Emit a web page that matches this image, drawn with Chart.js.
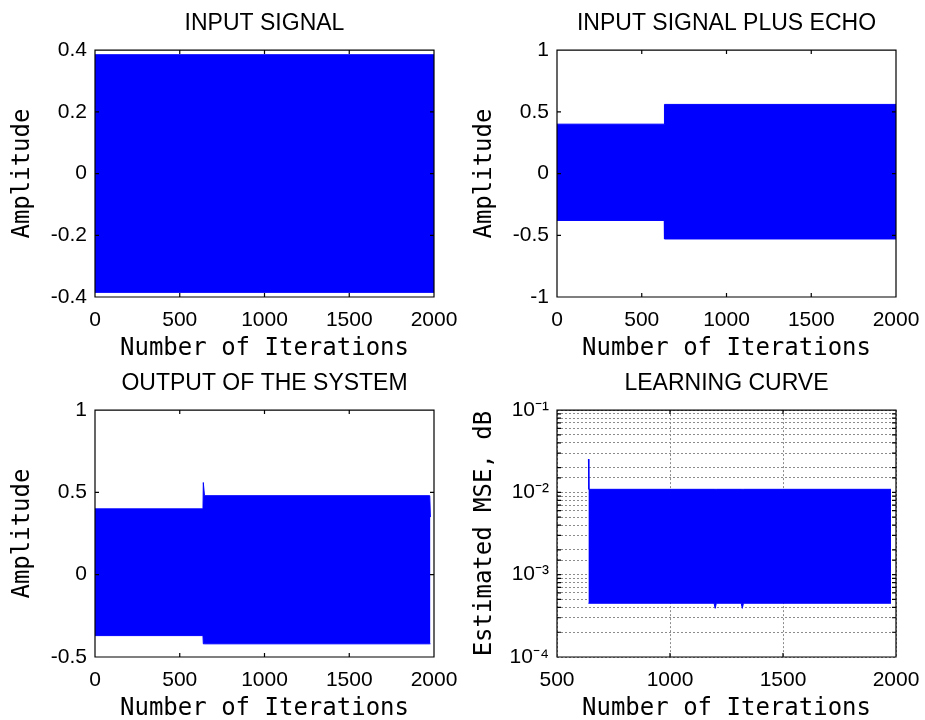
<!DOCTYPE html>
<html>
<head>
<meta charset="utf-8">
<script src="https://cdn.jsdelivr.net/npm/chart.js@4/dist/chart.umd.min.js"></script>
<style>
  body { margin: 0; background: #fff; }
  #fig { position: relative; width: 925px; height: 720px; }
  #fig canvas { position: absolute; }
  #err { position: absolute; left: 0; top: 0; color: red; font: 12px monospace; }
</style>
</head>
<body>
<div id="fig">
  <canvas id="c1" width="462" height="360" style="left:0;top:0"></canvas>
  <canvas id="c2" width="463" height="360" style="left:462px;top:0"></canvas>
  <canvas id="c3" width="462" height="360" style="left:0;top:360px"></canvas>
  <canvas id="c4" width="463" height="360" style="left:462px;top:360px"></canvas>
</div>
<div id="err"></div>
<script>
window.onerror = function (msg) { document.getElementById('err').textContent += msg + ' | '; };

// envelopes of the signals (x = iteration)
const inputX  = [0, 2000];
const inputHi = [0.385, 0.385];
const inputLo = [-0.385, -0.385];

const echoX  = [0, 633, 634, 2000];
const echoHi = [0.40, 0.40, 0.56, 0.56];
const echoLo = [-0.38, -0.38, -0.53, -0.53];

const outX  = [0, 637, 639, 646, 1975, 1979];
const outHi = [0.40, 0.40, 0.56, 0.48, 0.48, 0.35];
const outLo = [-0.37, -0.37, -0.42, -0.42, -0.42, -0.42];

const mseX  = [639, 641, 1195, 1200, 1205, 1315, 1320, 1325, 1978];
const mseHi = [0.0254, 0.0109, 0.0109, 0.0109, 0.0109, 0.0109, 0.0109, 0.0109, 0.0109];
const mseLo = [4.5e-4, 4.5e-4, 4.5e-4, 3.9e-4, 4.5e-4, 4.5e-4, 3.9e-4, 4.5e-4, 4.5e-4];

const mseDecades = [1e-4, 1e-3, 1e-2, 1e-1];
const mseDecadeLabels = ['10\u207B\u2074', '10\u207B\u00B3', '10\u207B\u00B2', '10\u207B\u00B9'];

const titles = ['INPUT SIGNAL', 'INPUT SIGNAL PLUS ECHO', 'OUTPUT OF THE SYSTEM', 'LEARNING CURVE'];
const xLabel = 'Number of Iterations';
const yLabels = ['Amplitude', 'Amplitude', 'Amplitude', 'Estimated MSE, dB'];

const BLUE = '#0000ff';
const SANS = "'Liberation Sans', Arial, sans-serif";
const MONO = "'DejaVu Sans Mono', monospace";

// black frame plus MATLAB style inward ticks
const boxPlugin = {
    id: 'frameTicks',
    afterDraw(chart) {
        const ctx = chart.ctx;
        const a = chart.chartArea;
        const sx = chart.scales.x, sy = chart.scales.y;
        ctx.save();
        ctx.setLineDash([]);
        ctx.strokeStyle = '#000';
        ctx.lineWidth = 1.2;
        ctx.beginPath();
        sx.ticks.forEach(t => {
            const px = sx.getPixelForValue(t.value);
            ctx.moveTo(px, a.bottom); ctx.lineTo(px, a.bottom - 4);
            ctx.moveTo(px, a.top); ctx.lineTo(px, a.top + 4);
        });
        sy.ticks.forEach(t => {
            const py = sy.getPixelForValue(t.value);
            ctx.moveTo(a.left, py); ctx.lineTo(a.left + 4, py);
            ctx.moveTo(a.right, py); ctx.lineTo(a.right - 4, py);
        });
        ctx.rect(a.left, a.top, a.right - a.left, a.bottom - a.top);
        ctx.stroke();
        ctx.restore();
    }
};

function pts(xs, ys) {
    return xs.map((x, i) => ({x: x, y: ys[i]}));
}

function roundLabel(v) {
    return String(Math.round(v * 10) / 10);
}

function makeChart(id, idx, xs, hi, lo, xOpts, yOpts, grid) {
    const ctx = document.getElementById(id).getContext('2d');
    const w = ctx.canvas.width;
    return new Chart(ctx, {
        type: 'line',
        data: {
            datasets: [
                { data: pts(xs, hi), borderColor: BLUE, borderWidth: 1, pointRadius: 0, fill: false },
                { data: pts(xs, lo), borderColor: BLUE, borderWidth: 1, pointRadius: 0,
                  fill: '-1', backgroundColor: BLUE }
            ]
        },
        options: {
            responsive: false,
            animation: false,
            layout: { padding: { left: 0, right: w - 434, top: 0, bottom: 0 } },
            plugins: {
                legend: { display: false },
                tooltip: { enabled: false },
                title: {
                    display: true,
                    text: titles[idx],
                    fullSize: false,
                    color: '#000',
                    font: { family: SANS, size: 23, weight: 'normal', lineHeight: 1.2 },
                    padding: { top: 9.5, bottom: 13 }
                }
            },
            scales: {
                x: Object.assign({
                    type: 'linear',
                    afterFit: s => { s.height = 63; s.paddingLeft = 0; s.paddingRight = 0; },
                    grid: { display: grid, drawTicks: false, color: '#8c8c8c', lineWidth: 1 },
                    border: { display: false, dash: [2, 2] },
                    title: { display: true, text: xLabel, color: '#000',
                             font: { family: MONO, size: 24, lineHeight: 1 },
                             padding: { top: 0, bottom: -1 } }
                }, xOpts),
                y: Object.assign({
                    afterFit: s => { s.width = 95; s.paddingTop = 0; s.paddingBottom = 0; },
                    grid: { display: grid, drawTicks: false, color: '#8c8c8c', lineWidth: 1 },
                    border: { display: false, dash: [2, 2] },
                    title: { display: true, text: yLabels[idx], color: '#000',
                             font: { family: MONO, size: 24, lineHeight: 1 },
                             padding: { top: 10.5, bottom: 0 } }
                }, yOpts)
            }
        },
        plugins: [boxPlugin]
    });
}

function yTicks(min, max, step) {
    return { type: 'linear', min: min, max: max,
             ticks: { autoSkip: false, padding: 8, color: '#000', stepSize: step,
                      font: { family: SANS, size: 21 }, callback: roundLabel } };
}

function xTicks(min, max) {
    return { min: min, max: max,
             ticks: { autoSkip: false, maxRotation: 0, padding: 11, color: '#000', stepSize: 500,
                      font: { family: SANS, size: 21 }, callback: v => String(v) } };
}

makeChart('c1', 0, inputX, inputHi, inputLo, xTicks(0, 2000), yTicks(-0.4, 0.4, 0.2), false);
makeChart('c2', 1, echoX, echoHi, echoLo, xTicks(0, 2000), yTicks(-1, 1, 0.5), false);
makeChart('c3', 2, outX, outHi, outLo, xTicks(0, 2000), yTicks(-0.5, 1, 0.5), false);

const logY = {
    type: 'logarithmic', min: 1e-4, max: 1e-1,
    ticks: { autoSkip: false, padding: 8, color: '#000', font: { family: SANS, size: 21 },
             callback: v => {
                 const k = mseDecades.findIndex(d => Math.abs(v / d - 1) < 1e-6);
                 return k < 0 ? '' : mseDecadeLabels[k];
             } }
};
makeChart('c4', 3, mseX, mseHi, mseLo, xTicks(500, 2000), logY, true);
</script>
</body>
</html>
